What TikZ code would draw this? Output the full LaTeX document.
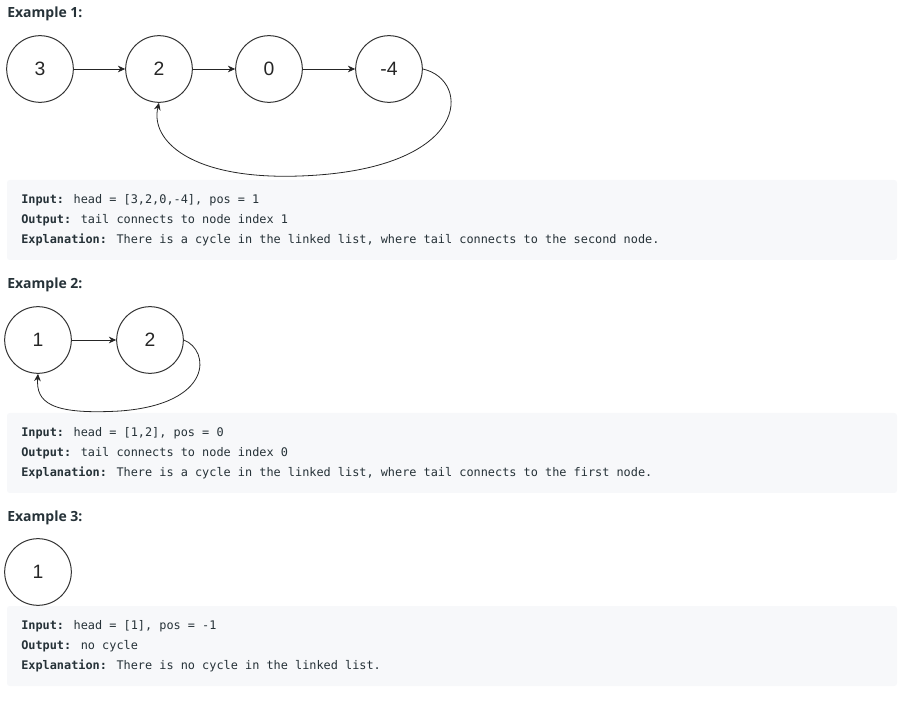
\documentclass[tikz,border=0pt]{standalone}
\usepackage{fontspec}
\setmainfont{Liberation Sans}
\newfontfamily\titlefont{Open Sans}
\newfontfamily\codefont{DejaVu Sans Mono}
\usetikzlibrary{arrows.meta}
\definecolor{txt}{HTML}{262626}
\definecolor{codebg}{HTML}{F7F8FA}
\definecolor{codetxt}{HTML}{263238}
\tikzset{
  lnode/.style={circle, draw=black!80, line width=0.75pt, minimum size=50pt, inner sep=0pt, font=\fontsize{14.5}{16}\selectfont, text=txt},
  link/.style={draw=black!85, line width=0.6pt, -{Stealth[length=5.5pt,width=5pt]}},
  title/.style={anchor=west, font=\titlefont\bfseries\fontsize{10.5}{12}\selectfont, text=codetxt, inner sep=0pt},
  codebox/.style={fill=codebg, rounded corners=2pt, draw=none},
  codeline/.style={anchor=west, inner sep=0pt, font=\codefont\fontsize{8.9}{10}\selectfont, text=codetxt}
}
\newcommand{\lbl}[1]{\textbf{#1}}
\begin{document}
\begin{tikzpicture}[x=0.75pt, y=-0.75pt]
\useasboundingbox (0,0) rectangle (908,702);
% Example 1
\node[title] (t1) at (7,14) {Example 1:};
\node[lnode] (a3) at (40,69) {3};
\node[lnode] (a2) at (159,69) {2};
\node[lnode] (a0) at (269,69) {0};
\node[lnode] (a4) at (389,69) {-4};
\draw[link] (a3) -- (a2);
\draw[link] (a2) -- (a0);
\draw[link] (a4.east) .. controls (472,80) and (472,170) .. (300,176) .. controls (190,180) and (150,140) .. (a2.south);
\draw[link] (a0) -- (a4);
\path[codebox] (7,180) rectangle (897,260);
\node[codeline] (i1) at (21,200) {\lbl{Input:} head = [3,2,0,-4], pos = 1};
\node[codeline] (o1) at (21,220) {\lbl{Output:} tail connects to node index 1};
\node[codeline] (e1) at (21,240) {\lbl{Explanation:} There is a cycle in the linked list, where tail connects to the second node.};
% Example 2
\node[title] (t2) at (7,285) {Example 2:};
\node[lnode] (b1) at (38,340) {1};
\node[lnode] (b2) at (150,340) {2};
\draw[link] (b1) -- (b2);
\draw[link] (b2.east) .. controls (210,350) and (214,404) .. (120,411) .. controls (50,415) and (36,402) .. (b1.south);
\path[codebox] (7,413) rectangle (897,493);
\node[codeline] (i2) at (21,433) {\lbl{Input:} head = [1,2], pos = 0};
\node[codeline] (o2) at (21,453) {\lbl{Output:} tail connects to node index 0};
\node[codeline] (e2) at (21,473) {\lbl{Explanation:} There is a cycle in the linked list, where tail connects to the first node.};
% Example 3
\node[title] (t3) at (7,518) {Example 3:};
\node[lnode] (c1) at (38,572) {1};
\path[codebox] (7,606) rectangle (897,686);
\node[codeline] (i3) at (21,626) {\lbl{Input:} head = [1], pos = -1};
\node[codeline] (o3) at (21,646) {\lbl{Output:} no cycle};
\node[codeline] (e3) at (21,666) {\lbl{Explanation:} There is no cycle in the linked list.};
\end{tikzpicture}
\end{document}
